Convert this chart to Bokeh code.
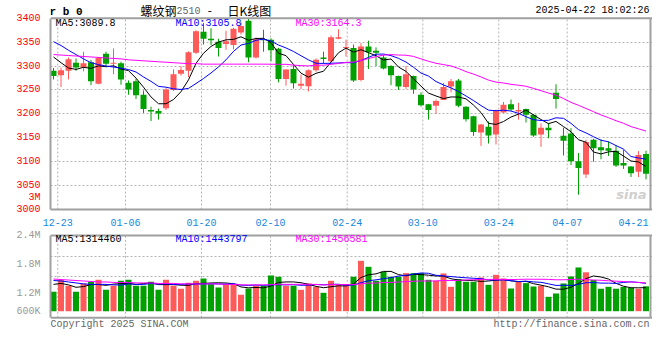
from bokeh.plotting import figure
from bokeh.layouts import column
from bokeh.models import Range1d, FixedTicker, Label, Span
from bokeh.embed import file_html
from bokeh.resources import INLINE

# ---------------- data ----------------
opens = [3290, 3281, 3290, 3307, 3297, 3308, 3263, 3326, 3305, 3306,
         3265, 3268, 3240, 3208, 3206, 3212, 3250, 3284, 3290, 3328,
         3372, 3357, 3351, 3346, 3344, 3370, 3395, 3318, 3356, 3355,
         3336, 3273, 3294, 3259, 3258, 3291, 3318, 3310, 3357, 3338,
         3338, 3271, 3341, 3332, 3318, 3300, 3279, 3256, 3279, 3240,
         3220, 3217, 3229, 3257, 3270, 3215, 3195, 3161, 3173, 3157,
         3203, 3220, 3205, 3210, 3198, 3157, 3171, 3244, 3154, 3159,
         3101, 3073, 3146, 3130, 3128, 3123, 3097, 3090, 3079, 3116]
highs = [3296, 3297, 3318, 3316, 3330, 3313, 3319, 3330, 3337, 3309,
         3270, 3273, 3249, 3215, 3211, 3254, 3293, 3300, 3331, 3375,
         3390, 3379, 3357, 3374, 3380, 3392, 3399, 3360, 3376, 3358,
         3338, 3293, 3302, 3282, 3293, 3316, 3330, 3364, 3377, 3355,
         3345, 3348, 3353, 3339, 3323, 3302, 3280, 3300, 3280, 3245,
         3221, 3230, 3265, 3273, 3273, 3216, 3196, 3179, 3184, 3209,
         3225, 3230, 3223, 3211, 3199, 3180, 3181, 3262, 3171, 3170,
         3118, 3146, 3148, 3147, 3142, 3134, 3125, 3091, 3122, 3123]
lows = [3272, 3256, 3272, 3290, 3289, 3260, 3262, 3300, 3283, 3261,
        3240, 3231, 3202, 3185, 3188, 3208, 3248, 3280, 3277, 3325,
        3345, 3344, 3320, 3334, 3335, 3366, 3308, 3316, 3330, 3310,
        3266, 3259, 3253, 3252, 3247, 3288, 3305, 3308, 3356, 3320,
        3267, 3268, 3294, 3300, 3293, 3260, 3250, 3252, 3242, 3215,
        3188, 3200, 3229, 3245, 3214, 3184, 3154, 3133, 3138, 3136,
        3202, 3206, 3188, 3182, 3152, 3131, 3149, 3211, 3113, 3093,
        3031, 3066, 3100, 3105, 3112, 3089, 3085, 3068, 3068, 3063]
closes = [3279, 3291, 3314, 3297, 3306, 3268, 3317, 3305, 3307, 3272,
          3251, 3239, 3210, 3205, 3201, 3251, 3283, 3292, 3329, 3373,
          3357, 3354, 3338, 3352, 3378, 3384, 3318, 3356, 3354, 3333,
          3273, 3293, 3264, 3263, 3291, 3313, 3315, 3360, 3360, 3340,
          3270, 3341, 3329, 3328, 3295, 3281, 3257, 3283, 3251, 3218,
          3208, 3227, 3256, 3268, 3217, 3189, 3162, 3178, 3155, 3206,
          3219, 3209, 3208, 3198, 3155, 3171, 3166, 3231, 3144, 3101,
          3087, 3141, 3128, 3124, 3123, 3092, 3092, 3076, 3114, 3075]
volumes = [1237000, 1479000, 1361000, 1237000, 1409000, 1443000, 1485000, 1278000, 1361000, 1464000,
           1485000, 1361000, 1361000, 1443000, 1278000, 1485000, 1361000, 1299000, 1423000, 1464000,
           1512000, 1395000, 1326000, 1395000, 1395000, 1175000, 1305000, 1361000, 1361000, 1574000,
           1547000, 1361000, 1361000, 1278000, 1409000, 1340000, 1216000, 1464000, 1375000, 1396000,
           1547000, 1877000, 1753000, 1464000, 1650000, 1547000, 1547000, 1623000, 1623000, 1623000,
           1485000, 1464000, 1616000, 1340000, 1499000, 1443000, 1443000, 1532000, 1381000, 1588000,
           1512000, 1305000, 1443000, 1416000, 1346000, 1361000, 1133000, 1202000, 1409000, 1553000,
           1740000, 1640000, 1480000, 1300000, 1340000, 1300000, 1340000, 1320000, 1300000, 1350000]

# moving-average values before enough history exists
ma5_head = [3319, 3307, 3296, 3293]
ma10_head = [3351, 3343, 3333, 3324, 3315, 3307, 3303, 3300, 3298]
ma30_head = [3324, 3323, 3322, 3321, 3320, 3319, 3318, 3317, 3316, 3315,
             3313, 3312, 3311, 3310, 3309, 3308, 3307, 3306, 3305, 3305,
             3304, 3304, 3304, 3304, 3304, 3304, 3304, 3304, 3304]
vma5_head = [1390000, 1410000, 1380000, 1330000]
vma10_head = [1470000, 1460000, 1440000, 1420000, 1400000, 1390000, 1390000, 1390000, 1380000]
vma30_head = [1500000, 1490000, 1480000, 1470000, 1460000, 1450000, 1440000, 1440000, 1430000, 1430000,
              1430000, 1420000, 1420000, 1420000, 1410000, 1410000, 1410000, 1400000, 1400000, 1400000,
              1400000, 1400000, 1400000, 1390000, 1390000, 1380000, 1380000, 1380000, 1380000]

date_labels = ["12-23", "01-06", "01-20", "02-10", "02-24", "03-10", "03-24", "04-07", "04-21"]
date_pos = [0.57, 9.6, 19.73, 28.93, 39.16, 49.24, 59.37, 68.49, 77.33]
price_ticks = [3000, 3050, 3100, 3150, 3200, 3250, 3300, 3350, 3400]
price_tick_labels = [str(t) for t in price_ticks]
extra_price_label = ("3M", 3024.7)        # stray label Sina prints in the price axis
vol_ticks = [830000, 1200000, 1800000, 2400000]
vol_tick_labels = ["600K", "1.2M", "1.8M", "2.4M"]

ma_price_text = ["MA5:3089.8", "MA10:3105.8", "MA30:3164.3"]
ma_vol_text = ["MA5:1314460", "MA10:1443797", "MA30:1456581"]

# ---------------- styling ----------------
MONO = "Liberation Mono"
CJK = "Noto Sans CJK SC"
RED = "#ff5a5a"
GREEN = "#00a000"
GRID = "#b4b4b4"
FRAME = "#a0a0a0"
DATE_BLUE = "#1589e0"
MA_COLORS = ["#000000", "#0000ff", "#ff00ff"]

n = len(closes)
idx = list(range(n))


def moving_average(vals, w, head):
    out = list(head)
    for i in range(len(head), len(vals)):
        out.append(sum(vals[i - w + 1:i + 1]) / w)
    return out


ma5 = moving_average(closes, 5, ma5_head)
ma10 = moving_average(closes, 10, ma10_head)
ma30 = moving_average(closes, 30, ma30_head)
vma5 = moving_average(volumes, 5, vma5_head)
vma10 = moving_average(volumes, 10, vma10_head)
vma30 = moving_average(volumes, 30, vma30_head)

colors = [RED if c >= o else GREEN for o, c in zip(opens, closes)]
body_top, body_bot = [], []
for o, c in zip(opens, closes):
    t, b = max(o, c), min(o, c)
    if t - b < 2:
        m = (t + b) / 2
        t, b = m + 1, m - 1
    body_top.append(t)
    body_bot.append(b)

# ---------------- geometry (canvas pixels) ----------------
W = 652
FRAME_L = 50            # left frame edge
STEP = 7.5              # px per trading day
X0 = -0.4               # data x at the left frame edge
X1 = X0 + (W - FRAME_L) / STEP
X_RIGHT = X0 + (650 - FRAME_L) / STEP   # right border of the chart box

P_LO, P_HI = 3000, 3400
P_Y_TOP, P_Y_BOT = 18, 212               # pixel rows of 3400 / 3000
P_SCALE = (P_HI - P_LO) / (P_Y_BOT - P_Y_TOP)
P_TOP = P_HI + P_Y_TOP * P_SCALE         # frame extends to the canvas top (header room)
H1 = 228

V_HI = 2400000
V_PXM = 48.4 / 1e6                       # px per unit volume
V_Y_HI = 235                             # pixel row of 2.4M
V_Y_BOX = 317.3                          # bottom border of the volume box
V_Y_BASE = 310.7                         # bars start here
H2 = 352 - H1
V_TOP = V_HI + (V_Y_HI - H1) / V_PXM
V_BOTTOM = V_HI - (352 - V_Y_HI) / V_PXM
V_BOX = V_HI - (V_Y_BOX - V_Y_HI) / V_PXM
V_BASE = V_HI - (V_Y_BASE - V_Y_HI) / V_PXM


def px_x(sx):
    return X0 + (sx - FRAME_L) / STEP


def px_y(sy):
    return P_HI - (sy - P_Y_TOP) * P_SCALE


def vpx_y(sy):
    return V_HI - (sy - V_Y_HI) / V_PXM


def add_text(fig, x, y, text, color="#000000", size="10px", font=MONO, align="left", style="normal"):
    fig.add_layout(Label(x=x, y=y, text=text, text_color=color, text_font=font,
                         text_font_size=size, text_align=align, text_baseline="middle",
                         text_font_style=style))


# ---------------- price panel ----------------
p = figure(width=W, height=H1, x_range=Range1d(X0, X1), y_range=Range1d(P_LO, P_TOP),
           output_backend="svg", toolbar_location=None,
           min_border_left=FRAME_L, min_border_right=0, min_border_top=0, min_border_bottom=H1 - P_Y_BOT,
           background_fill_color="white", border_fill_color="white", outline_line_color=None)

p.xaxis.ticker = FixedTicker(ticks=date_pos)
p.xaxis.major_label_overrides = {pos: lab for pos, lab in zip(date_pos, date_labels)}
p.xaxis.major_label_text_color = DATE_BLUE
p.xaxis.major_label_text_font = MONO
p.xaxis.major_label_text_font_size = "10px"
p.xaxis.major_tick_line_color = None
p.xaxis.minor_tick_line_color = None
p.xaxis.axis_line_color = FRAME
p.xaxis.axis_line_width = 2
p.xaxis.major_label_standoff = 3

yt = price_ticks + [extra_price_label[1]]
overrides = {t: s for t, s in zip(price_ticks, price_tick_labels)}
overrides[extra_price_label[1]] = extra_price_label[0]
p.yaxis.ticker = FixedTicker(ticks=yt)
p.yaxis.major_label_overrides = overrides
p.yaxis.bounds = (P_LO, P_HI)
p.yaxis.major_label_text_color = "#ff0000"
p.yaxis.major_label_text_font = MONO
p.yaxis.major_label_text_font_size = "10px"
p.yaxis.major_tick_line_color = None
p.yaxis.minor_tick_line_color = None
p.yaxis.axis_line_color = FRAME
p.yaxis.axis_line_width = 2
p.yaxis.major_label_standoff = 4

p.xgrid.visible = False
p.ygrid.ticker = FixedTicker(ticks=price_ticks[1:-1])
p.ygrid.grid_line_color = GRID
p.ygrid.grid_line_dash = "2 2"
# vertical date grid lines and box borders, limited to the chart box
grid_x = date_pos[:-1]
p.segment(x0=grid_x, y0=[P_LO] * len(grid_x), x1=grid_x, y1=[P_HI] * len(grid_x),
          line_color=GRID, line_width=1, line_dash="2 2")
p.add_layout(Span(location=P_HI, dimension="width", line_color=FRAME, line_width=2))
p.segment(x0=[X_RIGHT], y0=[P_LO], x1=[X_RIGHT], y1=[P_HI], line_color=FRAME, line_width=2)

p.segment(x0=idx, y0=lows, x1=idx, y1=highs, line_color=colors, line_width=1)
p.vbar(x=idx, width=0.8, top=body_top, bottom=body_bot, fill_color=colors, line_color=None)
for series, col in zip((ma5, ma10, ma30), MA_COLORS):
    p.line(idx, series, line_color=col, line_width=1)

# header
add_text(p, px_x(49), px_y(12), "r b 0", size="11px", style="bold")
add_text(p, px_x(140), px_y(10), "螺纹钢", size="12px", font=CJK)
add_text(p, px_x(176), px_y(10.5), "2510", color="#666666", size="10px")
add_text(p, px_x(206), px_y(10), "-", size="11px")
add_text(p, px_x(227), px_y(10), "日K线图", size="12px", font=CJK)
add_text(p, px_x(649), px_y(10.5), "2025-04-22 18:02:26", align="right")
# price MA legend
for sx, txt, col in zip((55, 175, 295), ma_price_text, MA_COLORS):
    add_text(p, px_x(sx), px_y(23.5), txt, color=col)
# faint watermark
add_text(p, px_x(646), px_y(197), "sina", color="#cfcfcf", size="13px",
         font="DejaVu Sans", style="bold italic", align="right")

# ---------------- volume panel ----------------
p2 = figure(width=W, height=H2, x_range=p.x_range, y_range=Range1d(V_BOTTOM, V_TOP),
            output_backend="svg", toolbar_location=None,
            min_border_left=FRAME_L, min_border_right=0, min_border_top=0, min_border_bottom=0,
            background_fill_color="white", border_fill_color="white", outline_line_color=None)
p2.xaxis.visible = False
p2.yaxis.ticker = FixedTicker(ticks=vol_ticks)
p2.yaxis.major_label_overrides = {t: s for t, s in zip(vol_ticks, vol_tick_labels)}
p2.yaxis.bounds = (V_BOX, V_HI)
p2.yaxis.major_label_text_color = "#999999"
p2.yaxis.major_label_text_font = MONO
p2.yaxis.major_label_text_font_size = "10px"
p2.yaxis.major_tick_line_color = None
p2.yaxis.minor_tick_line_color = None
p2.yaxis.axis_line_color = FRAME
p2.yaxis.axis_line_width = 2
p2.yaxis.major_label_standoff = 4

p2.xgrid.visible = False
p2.ygrid.ticker = FixedTicker(ticks=[V_BOX + k * (V_HI - V_BOX) / 4 for k in (1, 2, 3)])
p2.ygrid.grid_line_color = GRID
p2.ygrid.grid_line_dash = "2 2"
p2.segment(x0=grid_x, y0=[V_BOX] * len(grid_x), x1=grid_x, y1=[V_HI] * len(grid_x),
           line_color=GRID, line_width=1, line_dash="2 2")
p2.add_layout(Span(location=V_HI, dimension="width", line_color=FRAME, line_width=2))
p2.add_layout(Span(location=V_BOX, dimension="width", line_color=FRAME, line_width=2))
p2.segment(x0=[X_RIGHT], y0=[V_BOX], x1=[X_RIGHT], y1=[V_HI], line_color=FRAME, line_width=2)

p2.vbar(x=idx, width=0.8, top=volumes, bottom=V_BASE, fill_color=colors, line_color=None)
for series, col in zip((vma5, vma10, vma30), MA_COLORS):
    p2.line(idx, series, line_color=col, line_width=1)

for sx, txt, col in zip((55, 175, 295), ma_vol_text, MA_COLORS):
    add_text(p2, px_x(sx), vpx_y(239), txt, color=col)
add_text(p2, px_x(50), vpx_y(323.5), "Copyright 2025 SINA.COM", color="#666666")
add_text(p2, px_x(649), vpx_y(323.5), "http://finance.sina.com.cn", color="#666666", align="right")

layout = column(p, p2, spacing=0)
open("out.html", "w").write(file_html(layout, INLINE))
